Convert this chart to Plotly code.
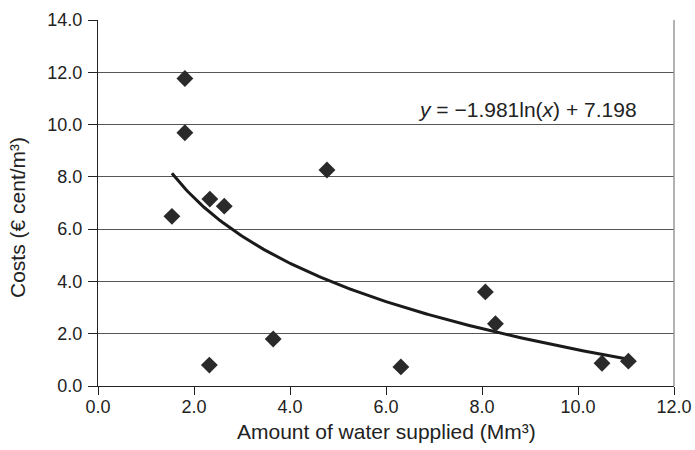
import numpy as np
import plotly.graph_objects as go

# Data
water_supplied = [1.54, 1.81, 1.81, 2.33, 2.63, 4.77, 2.32, 3.65, 6.31, 8.07, 8.28, 10.50, 11.05]
costs = [6.49, 11.76, 9.69, 7.15, 6.88, 8.26, 0.80, 1.80, 0.73, 3.60, 2.38, 0.87, 0.95]

x_ticks = [0, 2, 4, 6, 8, 10, 12]
x_tick_labels = ["0.0", "2.0", "4.0", "6.0", "8.0", "10.0", "12.0"]
y_ticks = [0, 2, 4, 6, 8, 10, 12, 14]
y_tick_labels = ["0.0", "2.0", "4.0", "6.0", "8.0", "10.0", "12.0", "14.0"]
equation_text = "<i>y</i> = \u22121.981ln(<i>x</i>) + 7.198"

# Logarithmic trend line fitted to the data
b, a = np.polyfit(np.log(water_supplied), costs, 1)
trend_x = np.linspace(min(water_supplied), max(water_supplied), 200)
trend_y = a + b * np.log(trend_x)

font_family = "Liberation Sans, Arial, Helvetica, sans-serif"
text_color = "#222222"

fig = go.Figure()
fig.add_trace(go.Scatter(
    x=trend_x, y=trend_y, mode="lines",
    line=dict(color="#1a1a1a", width=3),
    hoverinfo="skip", showlegend=False,
))
fig.add_trace(go.Scatter(
    x=water_supplied, y=costs, mode="markers",
    marker=dict(symbol="diamond", size=13, color="#2a2a2a"),
    showlegend=False,
))

fig.update_layout(
    width=695, height=450,
    margin=dict(l=98, r=21, t=20, b=64),
    paper_bgcolor="white", plot_bgcolor="white",
    font=dict(family=font_family, size=18, color=text_color),
    showlegend=False,
)
fig.update_xaxes(
    range=[0, 12], tickvals=x_ticks, ticktext=x_tick_labels,
    tickfont=dict(size=18), ticklabelstandoff=-4, automargin=False,
    showgrid=False, zeroline=False,
    showline=True, linecolor="#222222", linewidth=1,
    ticks="outside", ticklen=8, tickcolor="#222222",
)
fig.update_yaxes(
    range=[0, 14], tickvals=y_ticks, ticktext=y_tick_labels,
    tickfont=dict(size=18), ticklabelstandoff=2, automargin=False,
    showgrid=True, gridcolor="#555555", gridwidth=1, zeroline=False,
    showline=True, linecolor="#222222", linewidth=1,
    ticks="outside", ticklen=9, tickcolor="#222222",
)
# right border of the plot area
fig.add_shape(type="line", xref="paper", yref="paper", x0=1, x1=1, y0=0, y1=1,
              line=dict(color="#999999", width=1.5))
# x axis title
fig.add_annotation(
    text="Amount of water supplied (Mm\u00b3)",
    xref="paper", yref="paper", x=0.5, y=-0.125,
    xanchor="center", yanchor="middle", showarrow=False,
    font=dict(size=21, color=text_color),
)
# y axis title
fig.add_annotation(
    text="Costs (\u20ac cent/m\u00b3)", textangle=-90,
    xref="paper", yref="paper", x=-0.14, y=0.46,
    xanchor="center", yanchor="middle", showarrow=False,
    font=dict(size=21, color=text_color),
)
# trend line equation
fig.add_annotation(
    text=equation_text, x=8.95, y=10.56, xref="x", yref="y",
    xanchor="center", yanchor="middle", showarrow=False,
    font=dict(size=21, color=text_color),
)

fig.write_html(
    "out.html",
    config={"displayModeBar": False},
    post_script="document.body.style.margin='0';document.body.style.overflow='hidden';",
)
